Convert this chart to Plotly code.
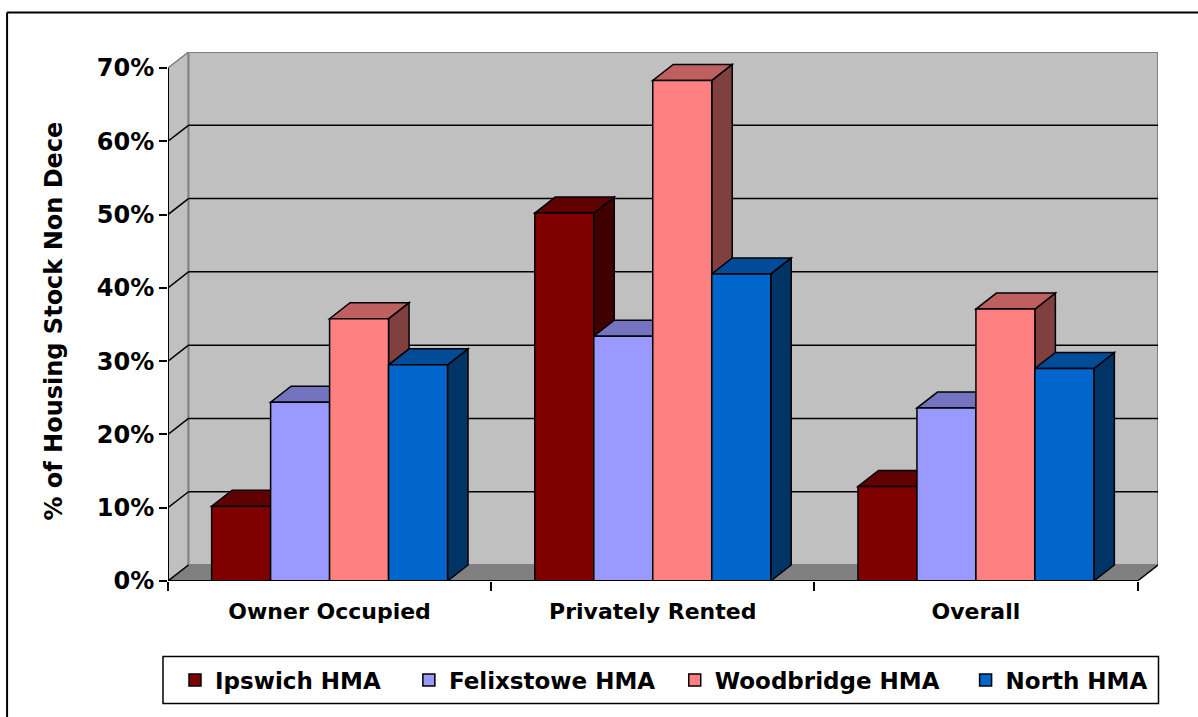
import plotly.graph_objects as go

# ---- data -------------------------------------------------------------
categories = ["Owner Occupied", "Privately Rented", "Overall"]
series_names = ["Ipswich HMA", "Felixstowe HMA", "Woodbridge HMA", "North HMA"]
ipswich = [10.2, 50.2, 12.9]
felixstowe = [24.4, 33.4, 23.6]
woodbridge = [35.8, 68.3, 37.1]
north = [29.5, 41.9, 29.0]
series_values = [ipswich, felixstowe, woodbridge, north]
y_ticks = [0, 10, 20, 30, 40, 50, 60, 70]
y_tick_labels = [f"{t}%" for t in y_ticks]
axis_title = "% of Housing Stock Non Dece"

# ---- styling ----------------------------------------------------------
front_colors = ["#800000", "#9999FF", "#FF8080", "#0066CC"]
top_colors = ["#600000", "#7373BF", "#BF6060", "#004C99"]
side_colors = ["#400000", "#4D4D80", "#804040", "#003366"]
WALL = "#C0C0C0"
FLOOR = "#808080"
EDGE = "#808080"
FONT = "DejaVu Sans"

W, H = 1198, 717
PL, PR = 168.0, 1158.5      # plot area left / right (px)
PT, PB = 52.4, 581.5        # plot area top / bottom (px)
FRONT_RIGHT = 1138.0        # right end of the front floor edge (px)
DEPTH_PX = 16.0             # vertical depth of the 3D box (px)

n_cat = len(categories)
unit_x = (FRONT_RIGHT - PL) / n_cat
DX = (PR - FRONT_RIGHT) / unit_x          # depth offset in x units
y_max = y_ticks[-1]
px_per_y = (PB - PT - DEPTH_PX) / y_max
DY = DEPTH_PX / px_per_y                  # depth offset in y units
y_range = [0, y_max + DY]

group_frac = 0.73
bar_w = group_frac / len(series_names)
x_lo, x_hi = -0.5, n_cat - 0.5

# legend layout (px): left edge of each entry, box extent
legend_left_px = [175, 409, 675, 966]
legend_box_px = (163, 1159, 657, 704)


def px_to_paper_x(px):
    return (px - PL) / (PR - PL)


def px_to_paper_y(py):
    return (PB - py) / (PB - PT)


def poly(points):
    return "M " + " L ".join(f"{x},{y}" for x, y in points) + " Z"


def bar_center(ci, si):
    return ci + (si - (len(series_names) - 1) / 2) * bar_w


shapes = []

# left side wall
shapes.append(dict(type="path", xref="x", yref="y", layer="below",
                   path=poly([(x_lo, 0), (x_lo, y_max), (x_lo + DX, y_max + DY), (x_lo + DX, DY)]),
                   fillcolor=WALL, line=dict(color=EDGE, width=1.5)))
# back wall
shapes.append(dict(type="rect", xref="x", yref="y", layer="below",
                   x0=x_lo + DX, x1=x_hi + DX, y0=DY, y1=y_max + DY,
                   fillcolor=WALL, line=dict(color=EDGE, width=2)))
# floor
shapes.append(dict(type="path", xref="x", yref="y", layer="below",
                   path=poly([(x_lo, 0), (x_hi, 0), (x_hi + DX, DY), (x_lo + DX, DY)]),
                   fillcolor=FLOOR, line=dict(color=EDGE, width=1)))
shapes.append(dict(type="line", xref="x", yref="y", layer="below",
                   x0=x_hi, y0=0, x1=x_hi + DX, y1=DY, line=dict(color="black", width=1.5)))

# gridlines: diagonal on the side wall + horizontal on the back wall
for t in y_ticks[:-1]:
    shapes.append(dict(type="line", xref="x", yref="y", layer="below",
                       x0=x_lo, y0=t, x1=x_lo + DX, y1=t + DY,
                       line=dict(color="black", width=1.5)))
    if t > 0:
        shapes.append(dict(type="line", xref="x", yref="y", layer="below",
                           x0=x_lo + DX, y0=t + DY, x1=x_hi + DX, y1=t + DY,
                           line=dict(color="black", width=1.5)))

# 3D faces of the columns (right side and top), drawn left to right
for ci in range(n_cat):
    for si, vals in enumerate(series_values):
        v = vals[ci]
        xc = bar_center(ci, si)
        xl, xr = xc - bar_w / 2, xc + bar_w / 2
        shapes.append(dict(type="path", xref="x", yref="y", layer="below",
                           path=poly([(xr, 0), (xr, v), (xr + DX, v + DY), (xr + DX, DY)]),
                           fillcolor=side_colors[si], line=dict(color="black", width=1.5)))
        shapes.append(dict(type="path", xref="x", yref="y", layer="below",
                           path=poly([(xl, v), (xr, v), (xr + DX, v + DY), (xl + DX, v + DY)]),
                           fillcolor=top_colors[si], line=dict(color="black", width=1.5)))

# front faces of the columns, one legend per series
traces = []
legend_ids = ["legend"] + [f"legend{i}" for i in range(2, len(series_names) + 1)]
for si, (name, vals) in enumerate(zip(series_names, series_values)):
    traces.append(go.Bar(
        x=[bar_center(ci, si) for ci in range(n_cat)], y=vals, width=bar_w, name=name,
        marker=dict(color=front_colors[si], line=dict(color="black", width=1.5)),
        legend=legend_ids[si],
        hovertemplate=name + ": %{y:.1f}%<extra></extra>",
    ))

# front axis lines
shapes.append(dict(type="line", xref="x", yref="y", x0=x_lo, y0=0, x1=x_lo, y1=y_max,
                   line=dict(color="black", width=2)))
shapes.append(dict(type="line", xref="x", yref="y", x0=x_lo, y0=0, x1=x_hi, y1=0,
                   line=dict(color="black", width=2)))

# legend frame
bx0, bx1, by0, by1 = legend_box_px
shapes.append(dict(type="rect", xref="paper", yref="paper",
                   x0=px_to_paper_x(bx0), x1=px_to_paper_x(bx1),
                   y0=px_to_paper_y(by1), y1=px_to_paper_y(by0),
                   line=dict(color="black", width=1.5), fillcolor="rgba(0,0,0,0)"))

# keep the right page margin clear
shapes.append(dict(type="rect", xref="paper", yref="paper", layer="above",
                   x0=px_to_paper_x(1172), x1=px_to_paper_x(W + 10),
                   y0=px_to_paper_y(H + 10), y1=px_to_paper_y(20),
                   line=dict(width=0), fillcolor="white"))

# outer chart frame (top and left edges fall inside the page)
shapes.append(dict(type="line", xref="paper", yref="paper",
                   x0=px_to_paper_x(7), x1=px_to_paper_x(W + 10),
                   y0=px_to_paper_y(13), y1=px_to_paper_y(13),
                   line=dict(color="black", width=2)))
shapes.append(dict(type="line", xref="paper", yref="paper",
                   x0=px_to_paper_x(7), x1=px_to_paper_x(7),
                   y0=px_to_paper_y(13), y1=px_to_paper_y(H + 10),
                   line=dict(color="black", width=2)))

legend_font = dict(family=FONT, size=23, color="black", weight="bold")
legends = {}
for lid, lx in zip(legend_ids, legend_left_px):
    legends[lid] = dict(orientation="h", x=px_to_paper_x(lx), y=px_to_paper_y(680.5),
                        xanchor="left", yanchor="middle", borderwidth=0,
                        bgcolor="rgba(0,0,0,0)", font=legend_font)

fig = go.Figure(traces)
fig.update_layout(
    width=W, height=H, autosize=False,
    margin=dict(l=PL, r=W - PR, t=PT, b=H - PB, pad=0),
    paper_bgcolor="white", plot_bgcolor="rgba(0,0,0,0)",
    barmode="overlay", showlegend=True,
    shapes=shapes,
    font=dict(family=FONT, size=22, color="black", weight="bold"),
    annotations=[dict(text=axis_title, textangle=-90, xref="paper", yref="paper",
                      x=px_to_paper_x(53), y=px_to_paper_y(322),
                      xanchor="center", yanchor="middle", showarrow=False,
                      font=dict(family=FONT, size=24, color="black", weight="bold"))],
    **legends,
)
fig.update_xaxes(
    range=[x_lo, x_hi + DX], showgrid=False, zeroline=False, showline=False,
    tickmode="array", tickvals=list(range(n_cat)), ticktext=categories, ticks="",
    ticklabelstandoff=15,
    minor=dict(tickmode="array", tickvals=[x_lo + i for i in range(n_cat + 1)],
               ticks="outside", ticklen=9, tickwidth=2, tickcolor="black", showgrid=False),
    tickfont=dict(family=FONT, size=22, weight="bold"),
)
fig.update_yaxes(
    range=y_range, showgrid=False, zeroline=False, showline=False,
    tickmode="array", tickvals=y_ticks, ticktext=y_tick_labels,
    ticks="outside", ticklen=8, tickwidth=2, tickcolor="black",
    tickfont=dict(family=FONT, size=24, weight="bold"),
)
fig.write_html("out.html")
